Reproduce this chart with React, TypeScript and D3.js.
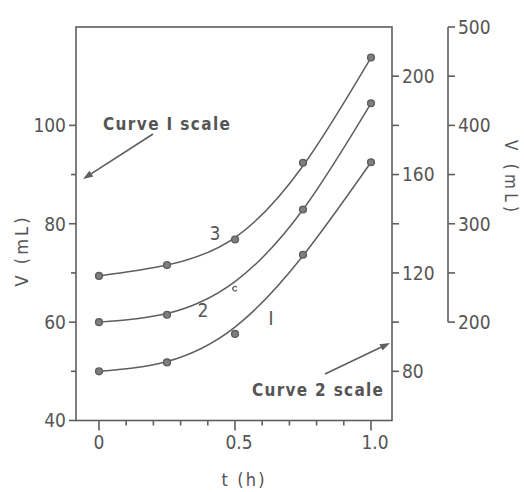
import React from "react";
import * as d3 from "d3";

// ---- data ----
const times = [0, 0.25, 0.5, 0.75, 1.0];
// Curve 1 (left scale)
const curve1Points = [50, 51.8, 57.6, 73.7, 92.5];
const curve1Fit = [50, 52, 59.0, 73.5, 92.5];
// Curve 2 (inner right scale)
const curve2Points = [100, 103, 113.6, 145.8, 189];
const curve2Fit = [100, 103.5, 116.5, 145.8, 189];
// Curve 3 (outer right scale)
const curve3Points = [247, 258, 284, 362, 469];
const curve3Fit = [247, 258, 286, 359, 469];

const xMajorTicks = [0, 0.5, 1.0];
const xMajorLabels = ["0", "0.5", "1.0"];
const xMinorTicks = [0.1, 0.2, 0.3, 0.4, 0.6, 0.7, 0.8, 0.9];
const leftMajor = [40, 60, 80, 100];
const leftMinor = [50, 70, 90];
const innerMajor = [80, 120, 160, 200];
const innerMinor = [100, 140, 180];
const outerMajor = [200, 300, 400, 500];
const outerMinor = [250, 350, 450];

const W = 524;
const H = 492;
const plot = { left: 76, right: 392, top: 27, bottom: 420.5 };
const outerX = 448;

const x = d3.scaleLinear().domain([0, 1]).range([99, 371]);
const yL = d3.scaleLinear().domain([40, 120]).range([plot.bottom, plot.top]);
const yR = d3.scaleLinear().domain([60, 220]).range([plot.bottom, plot.top]);
const yO = d3.scaleLinear().domain([100, 500]).range([plot.bottom, plot.top]);

const INK = "#5e5e5e";
const TXT = "#555";
const FONT = "'DejaVu Sans Condensed', 'DejaVu Sans', sans-serif";

function curvePath(vals: number[], ys: d3.ScaleLinear<number, number>) {
  const line = d3
    .line<number>()
    .x((_, i) => x(times[i]))
    .y((v) => ys(v))
    .curve(d3.curveNatural);
  return line(vals) || "";
}

function Arrow({ x1, y1, x2, y2 }: { x1: number; y1: number; x2: number; y2: number }) {
  const ang = Math.atan2(y2 - y1, x2 - x1);
  const L = 10;
  const Wd = 3.5;
  const bx = x2 - L * Math.cos(ang);
  const by = y2 - L * Math.sin(ang);
  const px = -Math.sin(ang) * Wd;
  const py = Math.cos(ang) * Wd;
  return (
    <g>
      <line x1={x1} y1={y1} x2={bx} y2={by} stroke={INK} strokeWidth={1.6} />
      <path d={`M${x2},${y2}L${bx + px},${by + py}L${bx - px},${by - py}Z`} fill={INK} />
    </g>
  );
}

export default function App() {
  const series = [
    { pts: curve1Points, fit: curve1Fit, ys: yL },
    { pts: curve2Points, fit: curve2Fit, ys: yR },
    { pts: curve3Points, fit: curve3Fit, ys: yO },
  ];
  return (
    <svg width={W} height={H} style={{ position: "absolute", left: 0, top: 0, background: "#fff" }}>
      <g fill="none" stroke={INK} strokeWidth={1.6}>
        <rect x={plot.left} y={plot.top} width={plot.right - plot.left} height={plot.bottom - plot.top} />
        <line x1={outerX} x2={outerX} y1={yO(500)} y2={yO(200)} />
        {xMajorTicks.map((t) => (
          <line key={"xm" + t} x1={x(t)} x2={x(t)} y1={plot.bottom} y2={plot.bottom + 10} />
        ))}
        {xMinorTicks.map((t) => (
          <line key={"xn" + t} x1={x(t)} x2={x(t)} y1={plot.bottom} y2={plot.bottom + 5} />
        ))}
        {leftMajor.map((v) => (
          <line key={"lm" + v} x1={plot.left - 7} x2={plot.left} y1={yL(v)} y2={yL(v)} />
        ))}
        {leftMinor.map((v) => (
          <line key={"ln" + v} x1={plot.left - 5} x2={plot.left} y1={yL(v)} y2={yL(v)} />
        ))}
        {innerMajor.map((v) => (
          <line key={"rm" + v} x1={plot.right} x2={plot.right + 7} y1={yR(v)} y2={yR(v)} />
        ))}
        {innerMinor.map((v) => (
          <line key={"rn" + v} x1={plot.right} x2={plot.right + 7} y1={yR(v)} y2={yR(v)} />
        ))}
        {outerMajor.map((v) => (
          <line key={"om" + v} x1={outerX} x2={outerX + 7} y1={yO(v)} y2={yO(v)} />
        ))}
        {outerMinor.map((v) => (
          <line key={"on" + v} x1={outerX} x2={outerX + 7} y1={yO(v)} y2={yO(v)} />
        ))}
        {series.map((s, i) => (
          <path key={"c" + i} d={curvePath(s.fit, s.ys)} strokeWidth={1.5} />
        ))}
      </g>
      {series.map((s, i) =>
        s.pts.map((v, j) =>
          i === 1 && j === 2 ? (
            <path
              key={`p${i}-${j}`}
              d={d3.arc()({ innerRadius: 1.6, outerRadius: 2.8, startAngle: 0.6, endAngle: Math.PI * 2 - 0.6 } as any) || ""}
              transform={`translate(${x(times[j])},${s.ys(v)}) rotate(90)`}
              fill={INK}
            />
          ) : (
            <circle key={`p${i}-${j}`} cx={x(times[j])} cy={s.ys(v)} r={3.4} fill="#7e7e7e" stroke={INK} strokeWidth={1.4} />
          )
        )
      )}
      <g fill={TXT} fontFamily={FONT} fontSize={19}>
        {leftMajor.map((v) => (
          <text key={"lt" + v} x={66} y={yL(v)} dy="0.36em" textAnchor="end">
            {v}
          </text>
        ))}
        {innerMajor.map((v) => (
          <text key={"rt" + v} x={plot.right + 10} y={yR(v)} dy="0.36em">
            {v}
          </text>
        ))}
        {outerMajor.map((v) => (
          <text key={"ot" + v} x={outerX + 10} y={yO(v)} dy="0.36em">
            {v}
          </text>
        ))}
        {xMajorTicks.map((t, i) => (
          <text key={"xt" + t} x={x(t) + (i === 0 ? 0 : 4)} y={442} dy="0.36em" textAnchor="middle">
            {xMajorLabels[i]}
          </text>
        ))}
        <text x={243} y={480} dy="0.36em" textAnchor="middle" fontSize={18} textLength={43} lengthAdjust="spacing">
          t (h)
        </text>
        <text
          transform="translate(22,252) rotate(-90)"
          textAnchor="middle"
          dy="0.36em"
          fontSize={18}
          textLength={69}
          lengthAdjust="spacing"
        >
          V (mL)
        </text>
        <text
          transform="translate(511,176) rotate(90)"
          textAnchor="middle"
          dy="0.36em"
          fontSize={17}
          textLength={72}
          lengthAdjust="spacing"
        >
          V (mL)
        </text>
        <text x={103} y={130} fontSize={17} fontWeight="bold" textLength={127} lengthAdjust="spacing">
          Curve I scale
        </text>
        <text x={252} y={396} fontSize={17} fontWeight="bold" textLength={131} lengthAdjust="spacing">
          Curve 2 scale
        </text>
        <text x={215} y={233} dy="0.36em" textAnchor="middle" fontSize={19}>
          3
        </text>
        <text x={203} y={310} dy="0.36em" textAnchor="middle" fontSize={19}>
          2
        </text>
        <text x={271} y={318} dy="0.36em" textAnchor="middle" fontSize={19}>
          I
        </text>
      </g>
      <Arrow x1={153} y1={134} x2={83} y2={179} />
      <Arrow x1={325} y1={374} x2={390} y2={343} />
    </svg>
  );
}
